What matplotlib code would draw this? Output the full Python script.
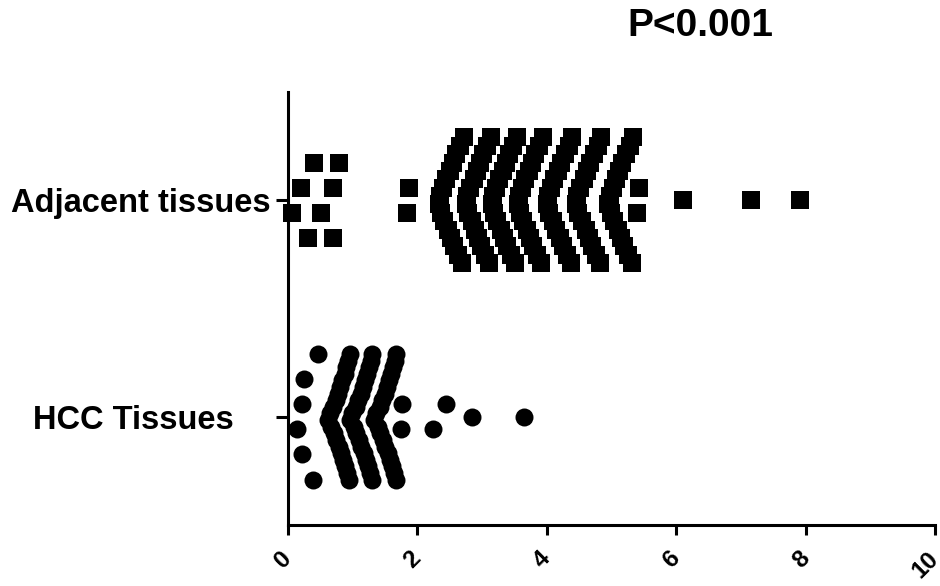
import numpy as np
import matplotlib
matplotlib.use("Agg")
import matplotlib.pyplot as plt
from matplotlib.transforms import ScaledTranslation

plt.rcParams['font.family'] = ['Liberation Sans', 'DejaVu Sans']
plt.rcParams['font.weight'] = 'bold'

categories = ["HCC Tissues", "Adjacent tissues"]

hcc_values = [0.14, 0.22, 0.22, 0.25, 0.39, 0.47,
              0.62, 0.65, 0.67, 0.70, 0.71, 0.74, 0.75, 0.78, 0.79, 0.81,
              0.83, 0.84, 0.86, 0.88, 0.89, 0.90, 0.92, 0.93, 0.95, 0.96,
              0.97, 1.00, 1.02, 1.05, 1.06, 1.09, 1.10, 1.13, 1.14, 1.16,
              1.18, 1.19, 1.21, 1.23, 1.24, 1.25, 1.27, 1.28, 1.30, 1.31,
              1.34, 1.37, 1.39, 1.42, 1.43, 1.46, 1.47, 1.50, 1.51, 1.53,
              1.55, 1.56, 1.58, 1.60, 1.61, 1.62, 1.64, 1.65, 1.67, 1.68,
              1.75, 1.76, 2.24, 2.44, 2.84, 3.65]

adjacent_values = [0.06, 0.20, 0.31, 0.40, 0.51, 0.70, 0.70, 0.80,
                   1.85, 1.87,
                   2.33, 2.35, 2.37, 2.40, 2.42, 2.45, 2.47, 2.50,
                   2.52, 2.55, 2.57, 2.60, 2.63, 2.66, 2.69, 2.72,
                   2.75, 2.77, 2.79, 2.82, 2.84, 2.87, 2.89, 2.92,
                   2.94, 2.97, 2.99, 3.02, 3.05, 3.08, 3.11, 3.14,
                   3.15, 3.17, 3.19, 3.22, 3.24, 3.27, 3.29, 3.32,
                   3.34, 3.37, 3.39, 3.42, 3.45, 3.48, 3.51, 3.54,
                   3.55, 3.57, 3.59, 3.62, 3.64, 3.67, 3.69, 3.72,
                   3.74, 3.77, 3.79, 3.82, 3.85, 3.88, 3.91, 3.94,
                   4.00, 4.02, 4.04, 4.07, 4.09, 4.12, 4.14, 4.17,
                   4.20, 4.22, 4.25, 4.28, 4.31, 4.34, 4.37, 4.39,
                   4.45, 4.47, 4.49, 4.52, 4.54, 4.57, 4.60, 4.62,
                   4.65, 4.67, 4.70, 4.73, 4.76, 4.79, 4.82, 4.84,
                   4.95, 4.97, 4.99, 5.02, 5.04, 5.07, 5.10, 5.12,
                   5.15, 5.17, 5.20, 5.23, 5.26, 5.29, 5.32, 5.34,
                   5.40, 5.42,
                   6.10, 7.15, 7.91]

x_ticks = [0, 2, 4, 6, 8, 10]
p_text = "P<0.001"


def swarm_offsets(values, bin_width, step=0.116, half_span=0.29):
    # column scatter a la Prism: bin sorted values, spread each bin from the
    # centre outwards, squeeze the spacing if the bin is crowded
    vals = np.sort(np.asarray(values, dtype=float))
    offs = np.zeros(len(vals))
    start = 0
    while start < len(vals):
        end = start
        while end < len(vals) and vals[end] < vals[start] + bin_width:
            end += 1
        n = end - start
        d = step if n < 2 else min(step, 2 * half_span / (n - 1))
        for i in range(n):
            if n % 2 == 0:
                level = i // 2 + 0.5
                sign = -1 if i % 2 == 0 else 1
            else:
                level = (i + 1) // 2
                sign = -1 if i % 2 == 1 else 1
            offs[start + i] = sign * level * d
        start = end
    return vals, offs


fig = plt.figure(figsize=(9.4, 5.86), dpi=100)
ax = fig.add_axes([0.306, 0.104, 0.689, 0.739])

xh, oh = swarm_offsets(hcc_values, 0.35)
xa, oa = swarm_offsets(adjacent_values, 0.40)
ax.scatter(xh, 0 + oh, marker='o', s=168, c='black', linewidths=0, clip_on=False, zorder=3)
ax.scatter(xa, 1 + oa, marker='s', s=150, c='black', linewidths=0, clip_on=False, zorder=3)

ax.set_xlim(0, 10)
ax.set_ylim(-0.5, 1.5)

ax.spines[['top', 'right']].set_visible(False)
for side in ['left', 'bottom']:
    ax.spines[side].set_linewidth(2.2)

ax.set_xticks(x_ticks)
ax.set_xticklabels([str(t) for t in x_ticks], rotation=45, rotation_mode='anchor',
                   ha='right', va='center', fontsize=17.5, fontweight='bold')
ax.tick_params(axis='x', length=7.5, width=2.2, pad=14)

ax.set_yticks([0, 1])
ax.set_yticklabels(categories, fontsize=23.5, fontweight='bold')
ax.tick_params(axis='y', length=9, width=2.2, pad=3.5)

# Prism left the HCC label sitting further out
lab = ax.get_yticklabels()[0]
lab.set_transform(lab.get_transform() + ScaledTranslation(-0.37, 0, fig.dpi_scale_trans))

fig.text(700 / 940, 1 - 26 / 586, p_text, ha='center', va='center',
         fontsize=28, fontweight='bold')

fig.savefig("out.png", dpi=100)
